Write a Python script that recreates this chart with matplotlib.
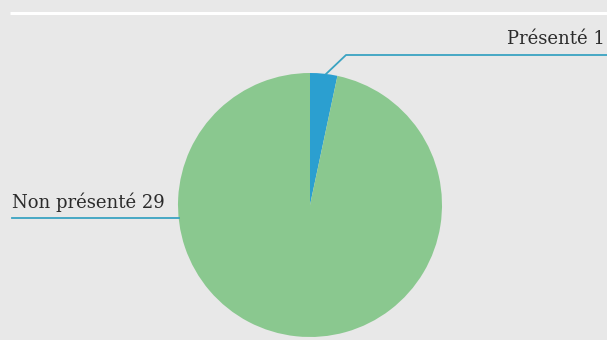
import matplotlib.pyplot as plt

labels = ['Présenté', 'Non présenté']
values = [1, 29]
colors = ['#2b9fd0', '#8ac88f']
line_color = '#3aa3c2'

W, H = 607, 340
fig = plt.figure(figsize=(W / 100, H / 100), dpi=100, facecolor='#e8e8e8')
ax = fig.add_axes([0, 0, 1, 1])
ax.set_facecolor('#e8e8e8')

cx, cy, r = 310, H - 205, 132
ax.pie(values, colors=colors, startangle=90, counterclock=False,
       center=(cx, cy), radius=r, frame=True,
       wedgeprops=dict(linewidth=0))
ax.set_xlim(0, W)
ax.set_ylim(0, H)
ax.set_aspect('equal')
ax.axis('off')

# thin white rule at top
ax.plot([10, W], [H - 13, H - 13], color='white', lw=2.2, solid_capstyle='butt')

font = dict(family='DejaVu Serif', size=13, color='#2b2b2b')

# leader for the small slice
ax.plot([326, 346, W], [H - 74, H - 55, H - 55], color=line_color, lw=1.3)
ax.text(605, H - 44, f'{labels[0]} {values[0]}', ha='right', va='baseline', **font)

# leader for the big slice
ax.plot([12, 179], [H - 217.5, H - 217.5], color=line_color, lw=1.3)
ax.text(12, H - 208, f'{labels[1]} {values[1]}', ha='left', va='baseline', **font)

fig.savefig('out.png', dpi=100, facecolor=fig.get_facecolor())
